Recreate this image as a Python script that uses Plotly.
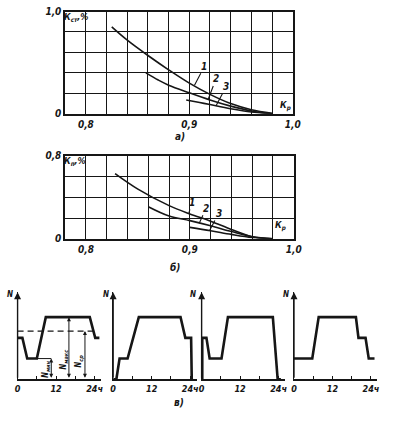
import plotly.graph_objects as go

W, H = 396, 422
INK = "#161616"

# ---------- data: panel а) ----------
a_c1_x = [0.825, 0.84, 0.86, 0.88, 0.90, 0.92, 0.94, 0.96, 0.98]
a_c1_y = [0.85, 0.72, 0.57, 0.43, 0.30, 0.19, 0.10, 0.04, 0.005]
a_c2_x = [0.858, 0.87, 0.88, 0.90, 0.92, 0.94, 0.96, 0.98]
a_c2_y = [0.40, 0.33, 0.28, 0.205, 0.135, 0.075, 0.028, 0.0]
a_c3_x = [0.897, 0.91, 0.92, 0.94, 0.96, 0.98]
a_c3_y = [0.135, 0.11, 0.09, 0.05, 0.018, 0.0]

# ---------- data: panel б) ----------
b_c1_x = [0.828, 0.85, 0.88, 0.90, 0.92, 0.94, 0.96, 0.98]
b_c1_y = [0.63, 0.48, 0.32, 0.24, 0.17, 0.09, 0.02, 0.0]
b_c2_x = [0.86, 0.88, 0.90, 0.92, 0.94, 0.96, 0.98]
b_c2_y = [0.31, 0.22, 0.175, 0.125, 0.07, 0.02, 0.0]
b_c3_x = [0.90, 0.92, 0.94, 0.96, 0.98]
b_c3_y = [0.11, 0.078, 0.042, 0.012, 0.0]

k_grid = [0.78, 0.80, 0.82, 0.84, 0.86, 0.88, 0.90, 0.92, 0.94, 0.96, 0.98, 1.00]
k_text = ["", "0,8", "", "", "", "", "0,9", "", "", "", "", "1,0"]
a_grid = [0, 0.2, 0.4, 0.6, 0.8, 1.0]
a_text = ["0", "", "", "", "", "1,0"]
b_grid = [0, 0.2, 0.4, 0.6, 0.8]
b_text = ["0", "", "", "", "0,8"]

# ---------- data: panel в) daily load profiles (hours, load level) ----------
p1_t = [0, 1.5, 3, 6, 8.8, 22.5, 24.2, 25.5]
p1_n = [2, 2, 1, 1, 3, 3, 2, 2]
p2_t = [0, 1, 2, 4.5, 8, 21, 22.5, 24.3, 24.5]
p2_n = [0, 0, 1, 1, 3, 3, 2, 2, 0]
p3_t = [0.2, 0.2, 1.5, 2.5, 6.2, 8.2, 22.2, 23.7, 24.7]
p3_n = [0, 2, 2, 1, 1, 3, 3, 0, 0]
p4_t = [0, 5.7, 7.7, 19.3, 20.1, 22.3, 23.3, 25.1]
p4_n = [1, 1, 3, 3, 2, 2, 1, 1]
n_avg = 2.33
avg_t = [0, 24.5]
nmin_ref_t = [6, 10.5]
arrow_t = {"мин": 10.5, "макс": 16, "ср": 21}
arrow_n = {"мин": 1, "макс": 3, "ср": n_avg}
t_ticks = [0, 6, 12, 18, 24]
t_text = ["0", "", "12", "", "24ч"]

FAM = "DejaVu Sans Condensed, DejaVu Sans, sans-serif"
FONT = dict(family=FAM, size=10, color=INK, style="italic", weight="bold")

def px(x):
    return x / W

def py(y):
    return 1 - y / H

fig = go.Figure()

def curve(x, y, xa, ya):
    fig.add_trace(go.Scatter(x=x, y=y, mode="lines", xaxis=xa, yaxis=ya,
                             line=dict(color=INK, width=1.6, shape="spline"),
                             showlegend=False, hoverinfo="skip"))

for cx, cy in [(a_c1_x, a_c1_y), (a_c2_x, a_c2_y), (a_c3_x, a_c3_y)]:
    curve(cx, cy, "x", "y")
for cx, cy in [(b_c1_x, b_c1_y), (b_c2_x, b_c2_y), (b_c3_x, b_c3_y)]:
    curve(cx, cy, "x2", "y2")

profiles = [(p1_t, p1_n), (p2_t, p2_n), (p3_t, p3_n), (p4_t, p4_n)]
for i, (t, n) in enumerate(profiles):
    k = i + 3
    fig.add_trace(go.Scatter(x=t, y=n, mode="lines", xaxis=f"x{k}", yaxis=f"y{k}",
                             line=dict(color=INK, width=2.6),
                             showlegend=False, hoverinfo="skip"))

# average dashed line and N_min reference in panel 1
fig.add_trace(go.Scatter(x=avg_t, y=[n_avg, n_avg], mode="lines", xaxis="x3", yaxis="y3",
                         line=dict(color=INK, width=1.2, dash="6px,4px"),
                         showlegend=False, hoverinfo="skip"))
fig.add_trace(go.Scatter(x=nmin_ref_t, y=[arrow_n["мин"]] * 2, mode="lines", xaxis="x3", yaxis="y3",
                         line=dict(color=INK, width=1.0),
                         showlegend=False, hoverinfo="skip"))

grid_axis = dict(showgrid=True, gridcolor=INK, gridwidth=1.3, showline=True, linecolor=INK,
                 linewidth=1.8, mirror=True, zeroline=False, ticks="", tickfont=FONT,
                 fixedrange=True)

layout = dict(
    width=W, height=H, margin=dict(l=0, r=0, t=0, b=0), autosize=False,
    paper_bgcolor="white", plot_bgcolor="white", showlegend=False,
    xaxis=dict(grid_axis, domain=[px(64), px(298)], range=[0.78, 1.0], anchor="y",
               tickmode="array", tickvals=k_grid, ticktext=k_text),
    yaxis=dict(grid_axis, domain=[py(111.7), py(6.7)], range=[0, 1.0], anchor="x",
               tickmode="array", tickvals=a_grid, ticktext=a_text),
    xaxis2=dict(grid_axis, domain=[px(64), px(299)], range=[0.78, 1.0], anchor="y2",
                tickmode="array", tickvals=k_grid, ticktext=k_text),
    yaxis2=dict(grid_axis, domain=[py(240), py(155)], range=[0, 0.8], anchor="x2",
                tickmode="array", tickvals=b_grid, ticktext=b_text),
)

scale = 3.3
starts = [15, 113.3, 204.3, 299.3]
t_max = 26
for i, x0 in enumerate(starts):
    k = i + 3
    layout[f"xaxis{k}"] = dict(domain=[px(x0), px(x0 + t_max * scale)], range=[0, t_max],
                               anchor=f"y{k}", showgrid=False, zeroline=False, showline=True,
                               linecolor=INK, linewidth=1.6, ticks="inside", ticklen=3,
                               tickwidth=1.2, tickcolor=INK, tickmode="array",
                               tickvals=t_ticks, ticktext=t_text,
                               tickfont=dict(FONT, size=9), fixedrange=True)
    layout[f"yaxis{k}"] = dict(domain=[py(384.3), py(295)], range=[0, 4.2], anchor=f"x{k}",
                               showgrid=False, zeroline=False, showline=True, linecolor=INK,
                               linewidth=1.4, showticklabels=False, ticks="", fixedrange=True)

fig.update_layout(**layout)

ann = []

def paper_text(txt, x, y, size):
    ann.append(dict(text=txt, x=px(x), y=py(y), xref="paper", yref="paper",
                    xanchor="center", yanchor="middle", showarrow=False,
                    font=dict(FONT, size=size)))

# axis titles top charts
paper_text("К<sub>ст</sub>,%", 75, 13, 9)
paper_text("К<sub>п</sub>,%", 74, 161, 9)
paper_text("К<sub>р</sub>", 291, 104, 9)
paper_text("К<sub>р</sub>", 285, 227, 9)
# curve labels with leaders
labels_a = [("1", 0.905, 0.28, 10, -19), ("2", 0.918, 0.135, 8, -21), ("3", 0.926, 0.08, 10, -19)]
for txt, x, y, dx, dy in labels_a:
    ann.append(dict(text=txt, x=x, y=y, xref="x", yref="y", ax=dx, ay=dy, showarrow=True,
                    arrowhead=0, arrowwidth=1.1, arrowcolor=INK, font=FONT, standoff=0))
labels_b = [("1", 0.899, 0.245, 3, -11), ("2", 0.909, 0.15, 7, -15), ("3", 0.919, 0.08, 9, -17)]
for txt, x, y, dx, dy in labels_b:
    ann.append(dict(text=txt, x=x, y=y, xref="x2", yref="y2", ax=dx, ay=dy, showarrow=True,
                    arrowhead=0, arrowwidth=1.1, arrowcolor=INK, font=FONT, standoff=0))
# panel letters
paper_text("а)", 182, 135, 10)
paper_text("б)", 177, 270, 10)
paper_text("в)", 181, 408, 10)
# y arrows and N labels on load profiles
n_pos = [7, 106, 195, 291.5]
for i in range(4):
    k = i + 3
    ann.append(dict(x=0, y=4.2, ax=0, ay=0, xref=f"x{k}", yref=f"y{k}", axref=f"x{k}",
                    ayref=f"y{k}", showarrow=True, arrowhead=2, arrowsize=1, arrowwidth=1.4,
                    arrowcolor=INK, text=""))
    paper_text("N", n_pos[i], 297.5, 8)
# N_min / N_max / N_avg double arrows with rotated labels
label_off = {"мин": (-1.6, 0.5), "макс": (-1.5, 0.95), "ср": (-1.5, 0.85)}
for key in ["мин", "макс", "ср"]:
    t = arrow_t[key]
    ann.append(dict(x=t, y=arrow_n[key], ax=t, ay=0, xref="x3", yref="y3", axref="x3", ayref="y3",
                    showarrow=True, arrowhead=2, arrowside="end+start", arrowsize=0.8,
                    arrowwidth=1.0, arrowcolor=INK, text=""))
    dx, yy = label_off[key]
    ann.append(dict(text=f"N<sub>{key}</sub>", x=t + dx, y=yy, xref="x3", yref="y3",
                    xanchor="center", yanchor="middle",
                    showarrow=False, textangle=-90, font=dict(FONT, size=8)))

fig.update_layout(annotations=ann)
fig.write_html("out.html", config={"displayModeBar": False},
               post_script="document.body.style.margin='0';document.body.style.overflow='hidden';")
